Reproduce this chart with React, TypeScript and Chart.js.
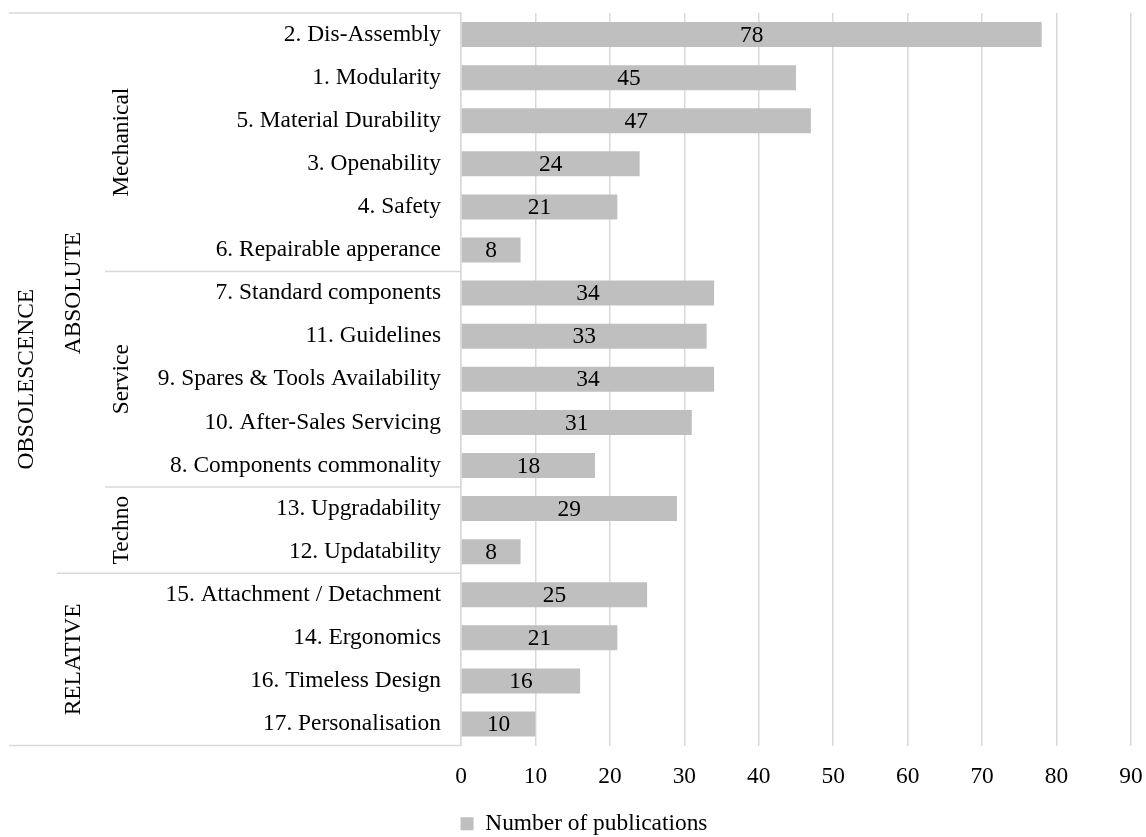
import React, { useEffect, useRef } from "react";
import { Chart, registerables } from "chart.js";

Chart.register(...registerables);

// Design-for-repair criteria, in display order (top to bottom)
const criteria = [
  "2. Dis-Assembly",
  "1. Modularity",
  "5. Material Durability",
  "3. Openability",
  "4. Safety",
  "6. Repairable apperance",
  "7. Standard components",
  "11. Guidelines",
  "9. Spares & Tools Availability",
  "10. After-Sales Servicing",
  "8. Components commonality",
  "13. Upgradability",
  "12. Updatability",
  "15. Attachment / Detachment",
  "14. Ergonomics",
  "16. Timeless Design",
  "17. Personalisation",
];

const publications = [78, 45, 47, 24, 21, 8, 34, 33, 34, 31, 18, 29, 8, 25, 21, 16, 10];

// Category hierarchy, outermost level first
const outerGroup = "OBSOLESCENCE";
const groupNames = ["ABSOLUTE", "RELATIVE"];
const groupSizes = [13, 4];
const subGroupNames = ["Mechanical", "Service", "Techno", ""];
const subGroupSizes = [6, 5, 2, 4];

const xTicks = { min: 0, max: 90, step: 10 };

const seriesLabel = "Number of publications";
const FONT = "Liberation Serif";
const FONT_SIZE = 23.4;
const BAR_COLOR = "#bfbfbf";
const LINE_COLOR = "#d9d9d9";
const PAD_LEFT = 37;
const AXIS_LEFT = 461;

// Draws the nested category groups to the left of the leaf labels
const groupAxisPlugin = {
  id: "groupAxis",
  afterDraw(chart: any) {
    const { ctx } = chart;
    const y = chart.scales.y;
    const axisX = chart.chartArea.left;
    const edge = (i: number) => y.getPixelForValue(i - 0.5);
    const levelX = [9, 57, 105];
    const baselineX = [33, 80, 128];

    ctx.save();
    ctx.strokeStyle = LINE_COLOR;
    ctx.lineWidth = 1.5;
    const hline = (yy: number, x0: number) => {
      ctx.beginPath();
      ctx.moveTo(x0, yy);
      ctx.lineTo(axisX, yy);
      ctx.stroke();
    };

    const drawRotated = (text: string, x: number, yy: number) => {
      if (!text) return;
      ctx.save();
      ctx.translate(x, yy);
      ctx.rotate(-Math.PI / 2);
      ctx.fillStyle = "#000";
      ctx.font = `${FONT_SIZE}px "${FONT}"`;
      ctx.textAlign = "center";
      ctx.textBaseline = "alphabetic";
      ctx.fillText(text, 0, 0);
      ctx.restore();
    };

    const n = criteria.length;
    hline(edge(0), levelX[0]);
    hline(edge(n), levelX[0]);
    drawRotated(outerGroup, baselineX[0], (edge(0) + edge(n)) / 2);

    const groupStarts: number[] = [];
    let start = 0;
    groupSizes.forEach((size, gi) => {
      const end = start + size;
      groupStarts.push(start);
      if (gi > 0) hline(edge(start), levelX[1]);
      drawRotated(groupNames[gi], baselineX[1], (edge(start) + edge(end)) / 2);
      start = end;
    });

    start = 0;
    subGroupSizes.forEach((size, si) => {
      const end = start + size;
      if (si > 0 && !groupStarts.includes(start)) hline(edge(start), levelX[2]);
      drawRotated(subGroupNames[si], baselineX[2], (edge(start) + edge(end)) / 2);
      start = end;
    });
    ctx.restore();
  },
};

// Writes each bar's value in its centre
const valueLabelPlugin = {
  id: "valueLabels",
  afterDatasetsDraw(chart: any) {
    const { ctx } = chart;
    const meta = chart.getDatasetMeta(0);
    ctx.save();
    ctx.fillStyle = "#000";
    ctx.font = `${FONT_SIZE}px "${FONT}"`;
    ctx.textAlign = "center";
    ctx.textBaseline = "middle";
    meta.data.forEach((bar: any, i: number) => {
      const cx = (bar.x + bar.base) / 2;
      ctx.fillText(String(publications[i]), cx, bar.y + 1);
    });
    ctx.restore();
  },
};

export default function App() {
  const canvasRef = useRef<HTMLCanvasElement>(null);

  useEffect(() => {
    if (!canvasRef.current) return;
    Chart.defaults.font.family = FONT;
    Chart.defaults.font.size = FONT_SIZE;
    Chart.defaults.color = "#000";

    const chart = new Chart(canvasRef.current, {
      type: "bar",
      data: {
        labels: criteria,
        datasets: [
          {
            label: seriesLabel,
            data: publications,
            backgroundColor: BAR_COLOR,
            borderWidth: 0,
            barPercentage: 0.58,
            categoryPercentage: 1,
          },
        ],
      },
      options: {
        indexAxis: "y",
        responsive: false,
        animation: false,
        devicePixelRatio: 1,
        layout: { padding: { left: PAD_LEFT, top: 13, right: 15, bottom: -8.5 } },
        plugins: {
          legend: {
            position: "bottom",
            labels: {
              boxWidth: 13,
              boxHeight: 13,
              padding: 2,
              color: "#000",
              font: { family: FONT, size: FONT_SIZE },
            },
          },
          tooltip: { enabled: false },
        },
        scales: {
          x: {
            min: xTicks.min,
            max: xTicks.max,
            ticks: {
              stepSize: xTicks.step,
              padding: 17,
              color: "#000",
              font: { family: FONT, size: FONT_SIZE },
            },
            grid: { color: LINE_COLOR, lineWidth: 1.5, drawTicks: false },
            border: { display: false },
            afterFit(scale: any) {
              scale.height = 64.5;
              scale.paddingLeft = 0;
              scale.paddingRight = 0;
            },
          },
          y: {
            ticks: {
              padding: 20,
              color: "#000",
              font: { family: FONT, size: FONT_SIZE },
              autoSkip: false,
            },
            grid: { display: false, drawTicks: false },
            border: { display: true, color: LINE_COLOR, width: 1.5 },
            afterFit(scale: any) {
              scale.width = AXIS_LEFT - PAD_LEFT;
              scale.paddingTop = 0;
              scale.paddingBottom = 0;
            },
          },
        },
      },
      plugins: [groupAxisPlugin, valueLabelPlugin],
    });

    return () => chart.destroy();
  }, []);

  return (
    <div style={{ position: "absolute", left: 0, top: 0, width: 1146, height: 837, background: "#fff" }}>
      <canvas ref={canvasRef} width={1146} height={837} />
    </div>
  );
}
